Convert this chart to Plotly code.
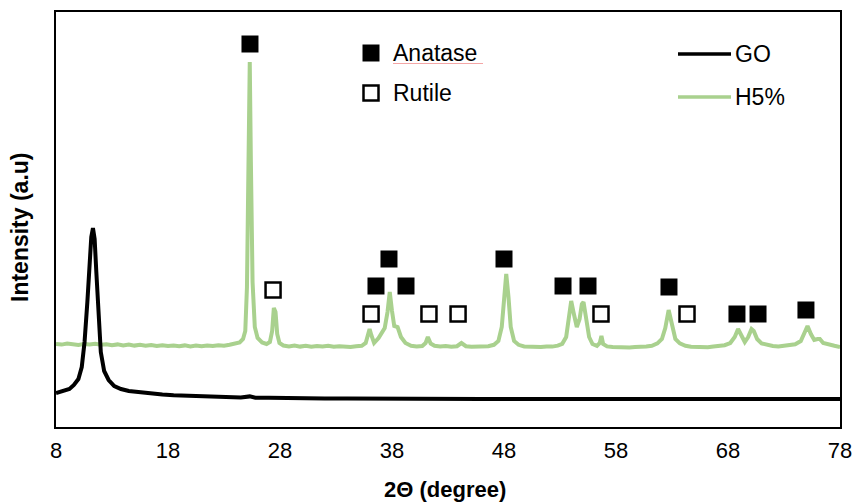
import plotly.graph_objects as go

# ---- XRD patterns (2θ in degrees, intensity in arbitrary units) ----
go_2theta = [8.0, 8.4, 8.8, 9.2, 9.6, 10.0, 10.3, 10.55, 10.8, 11.0, 11.15, 11.3,
             11.45, 11.6, 11.8, 12.0, 12.3, 12.7, 13.2, 13.8, 14.5, 15.5, 16.5,
             17.5, 18.5, 19.5, 20.5, 21.5, 22.5, 23.5, 24.5, 25.3, 25.8, 27.0,
             28.5, 30.0, 32.0, 34.0, 36.0, 38.0, 40.0, 42.0, 44.0, 46.0, 48.0,
             50.0, 52.0, 54.0, 56.0, 58.0, 60.0, 62.0, 64.0, 66.0, 68.0, 70.0,
             72.0, 74.0, 76.0, 78.0]
go_intensity = [340, 350, 362, 380, 420, 480, 600, 850, 1250, 1650, 1900, 1990,
                1880, 1550, 1100, 750, 560, 470, 410, 380, 360, 346, 334,
                326, 318, 313, 307, 304, 300, 301, 296, 306, 293, 292,
                288, 287, 285, 284, 282, 283, 281, 280, 281, 279, 281,
                280, 279, 280, 279, 280, 278, 280, 279, 280, 279, 280,
                279, 280, 279, 280]

h5_2theta = [8.0, 8.5, 9.0, 9.5, 10.0, 10.5, 11.0, 11.5, 12.0, 12.5, 13.0, 13.5,
             14.0, 14.5, 15.0, 15.5, 16.0, 16.5, 17.0, 17.5, 18.0, 18.5, 19.0,
             19.5, 20.0, 20.5, 21.0, 21.5, 22.0, 22.5, 23.0, 23.5, 24.0, 24.4,
             24.7, 24.9, 25.05, 25.2, 25.3, 25.4, 25.55, 25.75, 26.0, 26.4, 26.8,
             27.1, 27.3, 27.45, 27.6, 27.75, 27.95, 28.3, 28.8, 29.3, 29.8, 30.3,
             30.8, 31.3, 31.8, 32.3, 32.8, 33.3, 33.8, 34.3, 34.8, 35.3, 35.65,
             35.85, 36.0, 36.15, 36.4, 36.8, 37.1, 37.35, 37.6, 37.8, 38.0, 38.2,
             38.5, 38.8, 39.2, 39.7, 40.2, 40.7, 41.0, 41.2, 41.45, 41.8, 42.3,
             42.8, 43.3, 43.8, 44.2, 44.6, 45.1, 45.6, 46.1, 46.6, 47.1, 47.5,
             47.8, 48.0, 48.2, 48.4, 48.6, 48.9, 49.3, 49.8, 50.3, 50.8, 51.3,
             51.8, 52.3, 52.8, 53.2, 53.55, 53.8, 54.0, 54.2, 54.5, 54.75, 54.95,
             55.1, 55.3, 55.6, 55.9, 56.3, 56.55, 56.7, 56.85, 57.2, 57.7, 58.2,
             58.7, 59.2, 59.7, 60.2, 60.7, 61.2, 61.7, 62.1, 62.4, 62.7, 63.0,
             63.3, 63.7, 64.2, 64.7, 65.2, 65.7, 66.2, 66.7, 67.2, 67.7, 68.2,
             68.6, 68.9, 69.2, 69.5, 69.8, 70.1, 70.3, 70.6, 71.0, 71.5, 72.0,
             72.5, 73.0, 73.5, 74.0, 74.5, 74.8, 75.1, 75.4, 75.7, 76.0, 76.2,
             76.5, 77.0, 77.5, 78.0]
h5_intensity = [830, 824, 834, 826, 820, 830, 824, 832, 822, 828, 818, 826,
                816, 824, 814, 822, 812, 820, 810, 818, 810, 816, 808,
                816, 806, 814, 808, 816, 810, 818, 812, 822, 830, 846,
                880, 960, 1400, 2600, 3650, 2650, 1450, 1000, 890, 845, 830,
                850, 960, 1190, 1150, 930, 840, 815, 806, 814, 804, 812,
                802, 810, 804, 812, 802, 808, 804, 800, 808, 812, 840,
                930, 980, 920, 840, 890, 950, 990, 1150, 1350, 1160, 1010,
                1000, 900, 840, 812, 806, 810, 840, 900, 835, 812, 804,
                810, 802, 808, 840, 808, 802, 806, 800, 808, 822, 860,
                1000, 1300, 1530, 1300, 1000, 860, 822, 806, 802, 806, 800,
                806, 804, 814, 832, 900, 1120, 1260, 1150, 1000, 1080, 1230,
                1250, 1100, 900, 830, 812, 840, 910, 830, 806, 800, 796,
                802, 796, 800, 798, 806, 812, 836, 880, 990, 1170, 1000,
                880, 836, 812, 802, 798, 804, 798, 806, 808, 818, 840,
                900, 980, 920, 850, 900, 980, 960, 880, 836, 818, 810,
                806, 810, 814, 828, 860, 930, 1010, 930, 870, 880, 880,
                840, 822, 812, 800]

# Phase markers placed above the reflections
anatase_2theta = [25.32, 36.57, 37.73, 39.25, 48.0, 53.27, 55.5, 62.73, 68.8, 70.68, 74.96]
anatase_y = [3830, 1410, 1680, 1410, 1680, 1410, 1410, 1400, 1130, 1130, 1170]
rutile_2theta = [27.38, 36.13, 41.3, 43.9, 56.66, 64.34]
rutile_y = [1370, 1130, 1130, 1130, 1130, 1130]

x_ticks = [8, 18, 28, 38, 48, 58, 68, 78]

GREEN = "#A9D18E"
FONT = "Liberation Sans, Arial, sans-serif"

fig = go.Figure()
fig.add_trace(go.Scatter(x=h5_2theta, y=h5_intensity, mode="lines", name="H5%",
                         line=dict(color=GREEN, width=4)))
fig.add_trace(go.Scatter(x=go_2theta, y=go_intensity, mode="lines", name="GO",
                         line=dict(color="black", width=4)))
fig.add_trace(go.Scatter(x=anatase_2theta, y=anatase_y, mode="markers", name="Anatase",
                         marker=dict(symbol="square", size=17, color="black")))
fig.add_trace(go.Scatter(x=rutile_2theta, y=rutile_y, mode="markers", name="Rutile",
                         marker=dict(symbol="square-open", size=15, color="black",
                                     line=dict(width=2.5, color="black"))))

# plot-area geometry in pixels (for placing the in-plot key)
L, R, T, B = 56, 840, 12, 427


def px(xp):
    return (xp - L) / (R - L)


def py(yp):
    return (B - yp) / (B - T)


shapes = [
    # phase key
    dict(type="rect", xref="paper", yref="paper", x0=px(362.5), x1=px(379.5),
         y0=py(61.5), y1=py(44.5), fillcolor="black", line=dict(width=0)),
    dict(type="rect", xref="paper", yref="paper", x0=px(363.5), x1=px(378.5),
         y0=py(100.5), y1=py(85.5), fillcolor="white", line=dict(width=2.5, color="black")),
    dict(type="line", xref="paper", yref="paper", x0=px(393), x1=px(483),
         y0=py(63.5), y1=py(63.5), line=dict(width=1, color="#F4A6A6")),
    # series key
    dict(type="line", xref="paper", yref="paper", x0=px(678), x1=px(731),
         y0=py(54), y1=py(54), line=dict(width=3.5, color="black")),
    dict(type="line", xref="paper", yref="paper", x0=px(678), x1=px(731),
         y0=py(97), y1=py(97), line=dict(width=3.5, color=GREEN)),
]

key_font = dict(family=FONT, size=23, color="black")
annotations = [
    dict(text="Anatase", x=px(391), y=py(53), xanchor="left", yanchor="middle"),
    dict(text="Rutile", x=px(391), y=py(93), xanchor="left", yanchor="middle"),
    dict(text="GO", x=px(733), y=py(54), xanchor="left", yanchor="middle"),
    dict(text="H5%", x=px(733), y=py(97), xanchor="left", yanchor="middle"),
]
for a in annotations:
    a.update(xref="paper", yref="paper", showarrow=False, font=key_font)

annotations += [
    dict(text="2Θ (degree)", x=px(445), y=py(489), xref="paper", yref="paper",
         xanchor="center", yanchor="middle", showarrow=False,
         font=dict(family=FONT, size=22, color="black", weight="bold")),
    dict(text="Intensity (a.u)", x=px(20), y=py(227), xref="paper", yref="paper",
         xanchor="center", yanchor="middle", showarrow=False, textangle=-90,
         font=dict(family=FONT, size=23, color="black", weight="bold")),
]

fig.update_layout(
    width=855, height=502,
    margin=dict(l=L, r=855 - R, t=T, b=502 - B),
    paper_bgcolor="white", plot_bgcolor="white",
    showlegend=False,
    shapes=shapes, annotations=annotations,
    font=dict(family=FONT, color="black"),
)
fig.update_xaxes(range=[8, 78], tickvals=x_ticks, ticktext=[str(t) for t in x_ticks],
                 showgrid=False, zeroline=False, showline=True, linecolor="black",
                 linewidth=2, mirror=True, ticks="", tickfont=dict(family=FONT, size=22),
                 ticklabelstandoff=3, automargin=False)
fig.update_yaxes(range=[0, 4150], showticklabels=False, showgrid=False, zeroline=False,
                 showline=True, linecolor="black", linewidth=2, mirror=True, ticks="",
                 automargin=False)

fig.write_html("out.html")
